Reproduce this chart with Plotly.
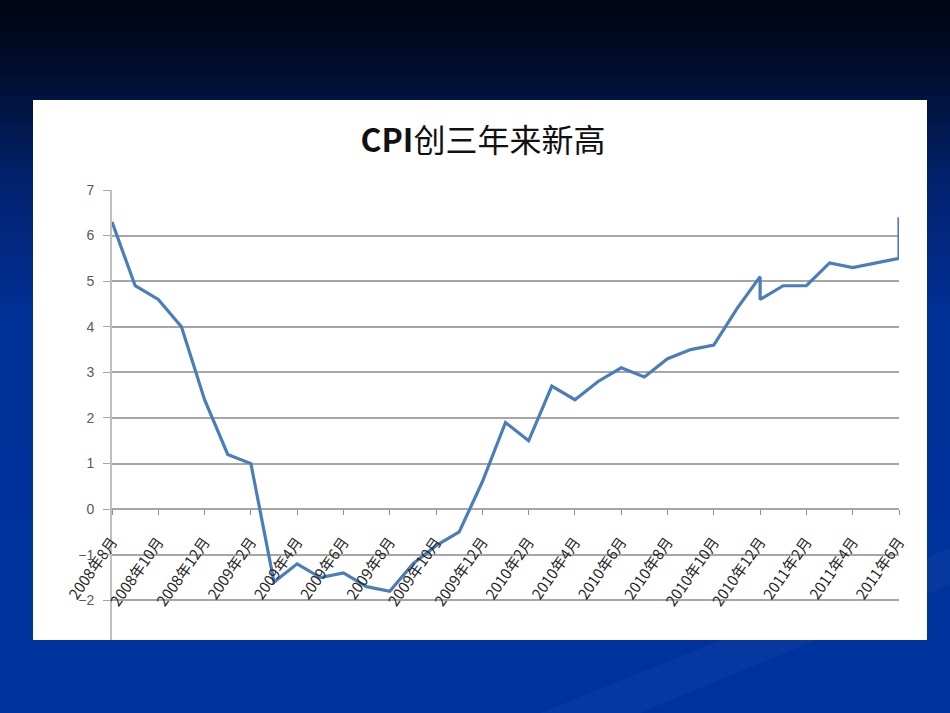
import plotly.graph_objects as go

# monthly CPI (yoy %), positions are month slots on the chart's date axis
month_slot = [0, 1, 2, 3, 4, 5, 6, 7, 8, 9, 10, 11, 12, 13, 14, 15, 16, 17,
              18, 19, 20, 21, 22, 23, 24, 25, 26, 27, 28, 28, 29, 30, 31, 32, 34, 34]
cpi = [6.3, 4.9, 4.6, 4.0, 2.4, 1.2, 1.0, -1.6, -1.2, -1.5, -1.4, -1.7, -1.8,
       -1.2, -0.8, -0.5, 0.6, 1.9, 1.5, 2.7, 2.4, 2.8, 3.1, 2.9, 3.3, 3.5,
       3.6, 4.4, 5.1, 4.6, 4.9, 4.9, 5.4, 5.3, 5.5, 6.4]

tick_slots = list(range(0, 35, 2))
tick_labels = ["2008年8月", "2008年10月", "2008年12月", "2009年2月", "2009年4月",
               "2009年6月", "2009年8月", "2009年10月", "2009年12月", "2010年2月",
               "2010年4月", "2010年6月", "2010年8月", "2010年10月", "2010年12月",
               "2011年2月", "2011年4月", "2011年6月"]

title_text = "<b>CPI</b>创三年来新高"

W, H = 950, 713
y_min, y_max = -2.87, 7
l, r, t_, b = 112, 51, 190, 73
pw, ph = W - l - r, H - t_ - b


def px_x(x):
    return (x - l) / pw


def px_y(y):
    return (H - b - y) / ph


fig = go.Figure()
fig.add_trace(go.Scatter(x=month_slot, y=cpi, mode="lines",
                         line=dict(color="#4a7ebb", width=3.2), cliponaxis=False,
                         hoverinfo="skip"))

# slide background: dark navy on top fading into blue
stops = [(0, (0, 5, 20)), (70, (1, 14, 45)), (180, (3, 34, 110)),
         (320, (1, 49, 152)), (713, (0, 51, 158))]
shapes = []
step = 6
for y0 in range(0, H, step):
    ym = y0 + step / 2
    for (a, ca), (bb, cb) in zip(stops[:-1], stops[1:]):
        if a <= ym <= bb:
            f = (ym - a) / (bb - a)
            c = tuple(int(ca[j] + (cb[j] - ca[j]) * f) for j in range(3))
            break
    shapes.append(dict(type="rect", xref="paper", yref="paper", layer="below",
                       x0=px_x(0), x1=px_x(W), y0=px_y(y0 + step + 1), y1=px_y(y0),
                       fillcolor="rgb(%d,%d,%d)" % c, line=dict(width=0)))

# faint light streak lower right
shapes.append(dict(type="path", xref="paper", yref="paper", layer="below",
                   path="M %f,%f L %f,%f L %f,%f L %f,%f Z" % (
                       px_x(540), px_y(713), px_x(950), px_y(548),
                       px_x(950), px_y(585), px_x(640), px_y(713)),
                   fillcolor="rgba(120,160,230,0.06)", line=dict(width=0)))

# white chart panel
shapes.append(dict(type="rect", xref="paper", yref="paper", layer="below",
                   x0=px_x(33), x1=px_x(927), y0=px_y(640), y1=px_y(100),
                   fillcolor="white", line=dict(width=0)))

fig.update_layout(
    width=W, height=H,
    margin=dict(l=l, r=r, t=t_, b=b),
    paper_bgcolor="#021a5a",
    plot_bgcolor="rgba(0,0,0,0)",
    showlegend=False,
    shapes=shapes,
    title=dict(text=title_text, x=px_x(483), xref="paper", xanchor="center",
               y=1 - 141 / H, yanchor="middle",
               font=dict(family="Noto Sans CJK SC", size=32, color="#111111")),
    xaxis=dict(range=[0, 34], anchor="free", position=(0 - y_min) / (y_max - y_min),
               tickvals=tick_slots, ticktext=tick_labels, tickangle=-55,
               ticks="outside", ticklen=5, tickcolor="#8c8c8c",
               ticklabelstandoff=12,
               showgrid=False, zeroline=False, showline=False,
               tickfont=dict(family="Noto Sans CJK SC", size=15, color="#262626")),
    yaxis=dict(range=[y_min, y_max], dtick=1, tick0=0,
               showgrid=True, gridcolor="#a6a6a6", gridwidth=2,
               zeroline=True, zerolinecolor="#a6a6a6", zerolinewidth=2,
               showline=True, linecolor="#bfbfbf", linewidth=2,
               ticks="outside", ticklen=7, tickcolor="#a6a6a6",
               ticklabelstandoff=6,
               tickfont=dict(family="Liberation Sans", size=14, color="#595959")),
)

fig.write_html("out.html", config={"displayModeBar": False},
               post_script="document.body.style.margin='0';")
